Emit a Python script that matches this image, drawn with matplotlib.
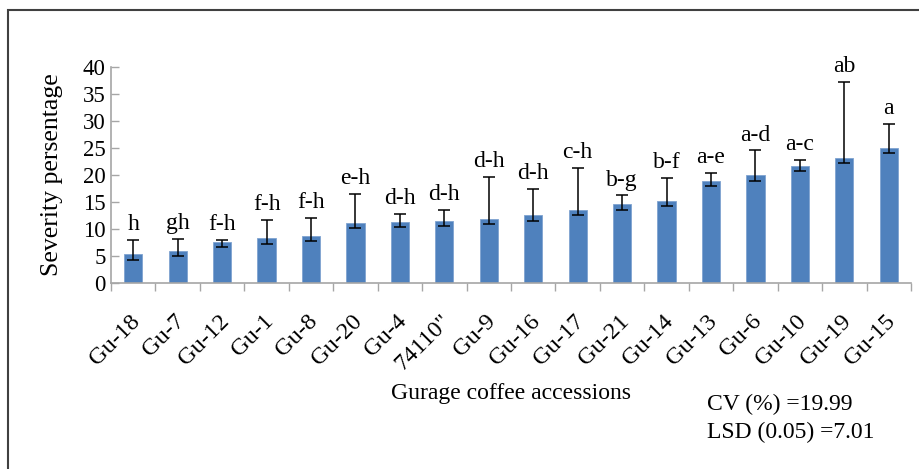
import numpy as np
import matplotlib.pyplot as plt
import matplotlib.transforms as mtransforms
from matplotlib.patches import Rectangle

plt.rcParams['font.family'] = ['Liberation Serif', 'DejaVu Serif']

accessions = ['Gu-18', 'Gu-7', 'Gu-12', 'Gu-1', 'Gu-8', 'Gu-20', 'Gu-4', '74110"',
              'Gu-9', 'Gu-16', 'Gu-17', 'Gu-21', 'Gu-14', 'Gu-13', 'Gu-6', 'Gu-10',
              'Gu-19', 'Gu-15']
severity = [5.4, 5.9, 7.6, 8.2, 8.6, 11.1, 11.3, 11.5,
            11.8, 12.5, 13.4, 14.5, 15.1, 18.9, 19.9, 21.6, 23.1, 25.0]
err_low = [1.1, 1.0, 1.0, 1.0, 0.9, 1.0, 1.0, 1.0,
           0.9, 1.0, 0.9, 1.0, 0.9, 0.9, 1.0, 0.9, 1.0, 1.0]
err_high = [2.6, 2.2, 0.4, 3.5, 3.4, 5.3, 1.5, 2.0,
            7.8, 4.9, 7.8, 1.7, 4.3, 1.5, 4.6, 1.2, 14.1, 4.4]
groups = ['h', 'gh', 'f-h', 'f-h', 'f-h', 'e-h', 'd-h', 'd-h',
          'd-h', 'd-h', 'c-h', 'b-g', 'b-f', 'a-e', 'a-d', 'a-c', 'ab', 'a']

fig = plt.figure(figsize=(9.2, 4.69), dpi=100)
ax = fig.add_axes([0.1207, 0.397, 0.8695, 0.461])

x = np.arange(len(accessions))
ax.bar(x, severity, width=0.41, color='#4F81BD', edgecolor='#7FA3D0', linewidth=0.6, zorder=2)
ax.errorbar(x, severity, yerr=[err_low, err_high], fmt='none', ecolor='black',
            elinewidth=1.1, capsize=4, capthick=1.1, zorder=3)

for xi, m, e, g in zip(x, severity, err_high, groups):
    ax.annotate(g, (xi, m + e), xytext=(0, 7), textcoords='offset points',
                ha='center', va='baseline', fontsize=17)

ax.set_xlim(-0.5, len(accessions) - 0.5)
ax.set_ylim(0, 40)
ax.set_yticks(np.arange(0, 41, 5))
ax.tick_params(axis='y', direction='in', length=6, width=1, color='#A6A6A6',
               labelsize=16.5, pad=4)

# tick marks between categories, labels at the centres
ax.set_xticks(np.arange(-0.5, len(accessions), 1))
ax.set_xticklabels([])
ax.tick_params(axis='x', which='major', direction='out', length=6, width=1, color='#A6A6A6')
ax.set_xticks(x, minor=True)
ax.set_xticklabels(accessions, minor=True, rotation=45, ha='right', rotation_mode='anchor',
                   fontsize=17.5)
ax.tick_params(axis='x', which='minor', length=0, pad=20)
shift = mtransforms.ScaledTranslation(-4 / 100, 0, fig.dpi_scale_trans)
for lab in ax.xaxis.get_minorticklabels():
    lab.set_transform(lab.get_transform() + shift)

for side in ['top', 'right']:
    ax.spines[side].set_visible(False)
for side in ['left', 'bottom']:
    ax.spines[side].set_color('#A6A6A6')
    ax.spines[side].set_linewidth(1.2)

ax.set_ylabel('Severity persentage', fontsize=18.5, labelpad=14)

fig.text(0.555, 0.162, 'Gurage coffee accessions', ha='center', va='center', fontsize=17)
fig.text(0.769, 0.138, 'CV (%) =19.99', ha='left', va='center', fontsize=17)
fig.text(0.769, 0.077, 'LSD (0.05) =7.01', ha='left', va='center', fontsize=17)

# outer chart frame
fig.patches.append(Rectangle((8 / 920, -0.2), 1.2, 1.2 - 10 / 469, fill=False,
                             edgecolor='#404040', linewidth=1.5,
                             transform=fig.transFigure, figure=fig))

fig.savefig('out.png', dpi=100, facecolor='white')
